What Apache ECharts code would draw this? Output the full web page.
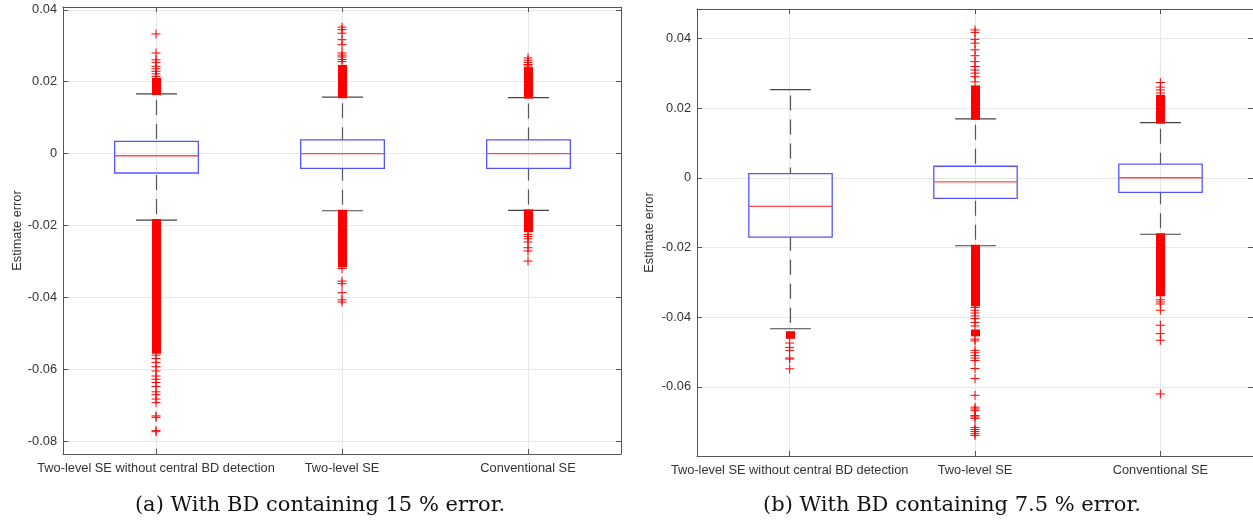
<!DOCTYPE html>
<html>
<head>
<meta charset="utf-8">
<style>
    html, body { margin: 0; padding: 0; background: #fff; }
    #chart { width: 1253px; height: 522px; }
</style>
<script src="https://cdn.jsdelivr.net/npm/echarts@6/dist/echarts.min.js"></script>
</head>
<body>
<div id="chart"></div>
<script>
(function () {
    'use strict';

    var categories = ['Two-level SE without central BD detection', 'Two-level SE', 'Conventional SE'];

    // per category: [lower whisker, q1, median, q3, upper whisker]
    var boxesA = [
        [-0.0185, -0.0054, -0.0006, 0.0034, 0.0166],
        [-0.0159, -0.0041, 0.0000, 0.0038, 0.0157],
        [-0.0158, -0.0041, 0.0000, 0.0038, 0.0156]
    ];
    var boxesB = [
        [-0.0433, -0.0170, -0.0082, 0.0012, 0.0253],
        [-0.0195, -0.0059, -0.0012, 0.0033, 0.0169],
        [-0.0162, -0.0042, 0.0000, 0.0039, 0.0158]
    ];

    // runs of outliers so dense they merge: [category, from, to]
    var denseA = [
        [0, 0.0166, 0.0208], [0, -0.0185, -0.0554],
        [1, 0.0157, 0.0244], [1, -0.0159, -0.0314],
        [2, 0.0156, 0.0238], [2, -0.0158, -0.0216]
    ];
    var denseB = [
        [0, -0.0443, -0.0459],
        [1, 0.0169, 0.0262], [1, -0.0195, -0.0366], [1, -0.0438, -0.0452],
        [2, 0.0158, 0.0235], [2, -0.0162, -0.0337]
    ];

    // single outliers per category
    var outliersA = [
        [0.0333, 0.0280, 0.0261, 0.0254, 0.0243, 0.0236, 0.0229, 0.0222, 0.0215,
            -0.0561, -0.0570, -0.0581, -0.0593, -0.0605, -0.0619, -0.0628, -0.0637, -0.0648,
            -0.0663, -0.0671, -0.0683, -0.0693, -0.0730, -0.0734, -0.0771, -0.0774],
        [0.0352, 0.0345, 0.0335, 0.0317, 0.0303, 0.0280, 0.0274, 0.0269, 0.0262, 0.0256,
            -0.0320, -0.0355, -0.0362, -0.0387, -0.0407, -0.0413],
        [0.0266, 0.0260, 0.0254, 0.0248, 0.0244,
            -0.0225, -0.0231, -0.0237, -0.0246, -0.0262, -0.0271, -0.0299]
    ];
    var outliersB = [
        [-0.0474, -0.0487, -0.0495, -0.0517, -0.0520, -0.0548],
        [0.0424, 0.0417, 0.0397, 0.0386, 0.0367, 0.0350, 0.0333, 0.0319, 0.0309, 0.0300, 0.0290, 0.0275,
            -0.0372, -0.0380, -0.0388, -0.0396, -0.0404, -0.0415, -0.0425, -0.0463, -0.0468,
            -0.0495, -0.0502, -0.0510, -0.0517, -0.0524, -0.0547, -0.0576, -0.0624,
            -0.0658, -0.0663, -0.0668, -0.0682, -0.0686, -0.0690, -0.0716, -0.0722, -0.0728, -0.0734, -0.0739],
        [0.0273, 0.0260, 0.0252, 0.0243,
            -0.0350, -0.0356, -0.0362, -0.0380, -0.0423, -0.0447, -0.0466, -0.0620]
    ];

    var yTicksA = { min: -0.0836, max: 0.0408 };
    var yTicksB = { min: -0.0798, max: 0.0484 };

    var captionA = '(a) With BD containing 15 % error.';
    var captionB = '(b) With BD containing 7.5 % error.';

    var font = 'Liberation Sans';
    var axisColor = '#555';
    var textColor = '#333';
    var gridColor = '#e8e8e8';

    var plusSymbol = 'path://M0,5L10,5M5,0L5,10';

    var renderBox = function (params, api) {
        var x = api.value(0);
        var lo = api.coord([x, api.value(1)]);
        var q1 = api.coord([x, api.value(2)]);
        var med = api.coord([x, api.value(3)]);
        var q3 = api.coord([x, api.value(4)]);
        var hi = api.coord([x, api.value(5)]);
        var band = api.size([1, 0])[0];
        var bw = band * 0.45;
        var cw = band * 0.22;
        var cx = Math.round(lo[0]) + 0.5;
        var whisker = { stroke: '#555', lineWidth: 1.2, lineDash: [15, 9] };
        var cap = { stroke: '#444', lineWidth: 1.2 };
        return {
            type: 'group',
            children: [
                { type: 'line', shape: { x1: cx, y1: hi[1] + 6, x2: cx, y2: q3[1] }, style: whisker },
                { type: 'line', shape: { x1: cx, y1: lo[1] - 6, x2: cx, y2: q1[1] }, style: whisker },
                { type: 'line', shape: { x1: cx - cw / 2, y1: hi[1], x2: cx + cw / 2, y2: hi[1] }, style: cap },
                { type: 'line', shape: { x1: cx - cw / 2, y1: lo[1], x2: cx + cw / 2, y2: lo[1] }, style: cap },
                {
                    type: 'rect',
                    shape: { x: cx - bw / 2, y: q3[1], width: bw, height: q1[1] - q3[1] },
                    style: { fill: 'none', stroke: '#5555ff', lineWidth: 1.3 }
                },
                {
                    type: 'line',
                    shape: { x1: cx - bw / 2, y1: med[1], x2: cx + bw / 2, y2: med[1] },
                    style: { stroke: '#ff4a4a', lineWidth: 1.3 }
                }
            ]
        };
    };

    var renderDense = function (params, api) {
        var x = api.value(0);
        var a = api.coord([x, api.value(1)]);
        var b = api.coord([x, api.value(2)]);
        var cx = Math.round(a[0]) + 0.5;
        var top = Math.min(a[1], b[1]) - 1;
        var bottom = Math.max(a[1], b[1]) + 1;
        return {
            type: 'rect',
            shape: { x: cx - 4.5, y: top, width: 9, height: bottom - top },
            style: { fill: '#ff0000' }
        };
    };

    var boxData = function (boxes) {
        return boxes.map(function (b, i) {
            return [i + 1].concat(b);
        });
    };

    var denseData = function (runs) {
        return runs.map(function (r) {
            return [r[0] + 1, r[1], r[2]];
        });
    };

    var outlierData = function (lists) {
        var data = [];
        lists.forEach(function (list, i) {
            list.forEach(function (v) {
                data.push([i + 1, v]);
            });
        });
        return data;
    };

    var xAxes = function (gridIndex) {
        return [{
            gridIndex: gridIndex,
            type: 'value',
            min: 0.5,
            max: 3.5,
            splitNumber: 3,
            minInterval: 1,
            maxInterval: 1,
            axisLine: { show: true, onZero: false, lineStyle: { color: axisColor } },
            axisTick: { show: true, inside: true, length: 5, lineStyle: { color: axisColor } },
            axisLabel: {
                showMinLabel: false,
                showMaxLabel: false,
                margin: 8,
                color: textColor,
                fontSize: 12.8,
                fontFamily: font,
                formatter: function (v) {
                    return Math.abs(v - Math.round(v)) < 1e-6 ? (categories[Math.round(v) - 1] || '') : '';
                }
            },
            splitLine: { show: true, lineStyle: { color: gridColor } }
        }, {
            gridIndex: gridIndex,
            type: 'value',
            position: 'top',
            min: 0.5,
            max: 3.5,
            splitNumber: 3,
            minInterval: 1,
            maxInterval: 1,
            axisLine: { show: true, onZero: false, lineStyle: { color: axisColor } },
            axisTick: { show: true, inside: true, length: 5, lineStyle: { color: axisColor } },
            axisLabel: { show: false },
            splitLine: { show: false }
        }];
    };

    var yAxes = function (gridIndex, ticks, nameGap) {
        return [{
            gridIndex: gridIndex,
            type: 'value',
            min: ticks.min,
            max: ticks.max,
            splitNumber: 6,
            minInterval: 0.02,
            maxInterval: 0.02,
            name: 'Estimate error',
            nameLocation: 'middle',
            nameRotate: 90,
            nameGap: nameGap,
            nameTextStyle: { color: textColor, fontSize: 12.8, fontFamily: font },
            axisLine: { show: true, onZero: false, lineStyle: { color: axisColor } },
            axisTick: { show: true, inside: true, length: 5, lineStyle: { color: axisColor } },
            axisLabel: {
                showMinLabel: false,
                showMaxLabel: false,
                margin: 6,
                color: textColor,
                fontSize: 12.8,
                fontFamily: font,
                formatter: function (v) {
                    return String(+v.toFixed(4));
                }
            },
            splitLine: { show: true, lineStyle: { color: gridColor } }
        }, {
            gridIndex: gridIndex,
            type: 'value',
            position: 'right',
            min: ticks.min,
            max: ticks.max,
            splitNumber: 6,
            minInterval: 0.02,
            maxInterval: 0.02,
            axisLine: { show: true, onZero: false, lineStyle: { color: axisColor } },
            axisTick: { show: true, inside: true, length: 5, lineStyle: { color: axisColor } },
            axisLabel: { show: false },
            splitLine: { show: false }
        }];
    };

    var seriesFor = function (index, boxes, dense, outliers) {
        return [{
            type: 'custom',
            xAxisIndex: index * 2,
            yAxisIndex: index * 2,
            renderItem: renderDense,
            data: denseData(dense),
            z: 3
        }, {
            type: 'scatter',
            xAxisIndex: index * 2,
            yAxisIndex: index * 2,
            symbol: plusSymbol,
            symbolSize: 9,
            itemStyle: { color: 'none', borderColor: '#ff0000', borderWidth: 1, opacity: 1 },
            data: outlierData(outliers),
            silent: true,
            z: 3
        }, {
            type: 'custom',
            xAxisIndex: index * 2,
            yAxisIndex: index * 2,
            renderItem: renderBox,
            data: boxData(boxes),
            z: 2
        }];
    };

    var chart = echarts.init(document.getElementById('chart'));

    chart.setOption({
        animation: false,
        grid: [
            { left: 63, top: 7, width: 558, height: 447 },
            { left: 697, top: 9, width: 558, height: 447 }
        ],
        xAxis: xAxes(0).concat(xAxes(1)),
        yAxis: yAxes(0, yTicksA, 37).concat(yAxes(1, yTicksB, 41)),
        series: seriesFor(0, boxesA, denseA, outliersA).concat(seriesFor(1, boxesB, denseB, outliersB)),
        graphic: [{
            type: 'text',
            style: {
                x: 320,
                y: 506,
                text: captionA,
                textAlign: 'center',
                textVerticalAlign: 'middle',
                font: '21px "DejaVu Serif"',
                fill: '#111'
            }
        }, {
            type: 'text',
            style: {
                x: 952,
                y: 506,
                text: captionB,
                textAlign: 'center',
                textVerticalAlign: 'middle',
                font: '21px "DejaVu Serif"',
                fill: '#111'
            }
        }]
    });
}());
</script>
</body>
</html>
